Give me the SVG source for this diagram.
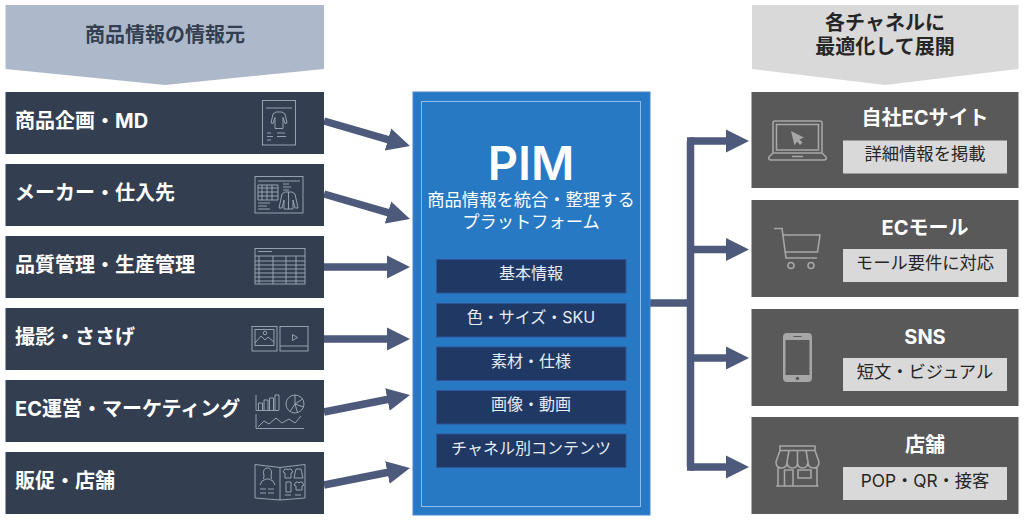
<svg xmlns="http://www.w3.org/2000/svg" width="1024" height="520" viewBox="0 0 1024 520">
<style>
text{font-family:"Inter","Noto Sans CJK JP","Noto Sans",sans-serif;text-anchor:middle}
.src{fill:#333f50}
.ch{fill:#595959}
.sub{fill:#d9d9d9}
.inner{fill:#1f3864;stroke:#2f5597;stroke-width:1}
.l{font-size:20px;font-weight:700;fill:#fff;text-anchor:start}
.t{font-size:20px;font-weight:700;fill:#fff}
.s{font-size:17.300px;fill:#262626}
.i{font-size:16px;fill:#e8edf5}
.ic{fill:none;stroke:#a3acb9;stroke-width:.9}
.ic2{fill:none;stroke:#a6a6a6;stroke-width:1.600}
.conn{fill:none;stroke:#4d5a7c;stroke-width:7.500}
</style>
<defs>
<marker id="ah" markerUnits="userSpaceOnUse" markerWidth="23" markerHeight="24" refX="1" refY="12" orient="auto"><path d="M0 0.500L23 12L0 23.500Z" fill="#4d5a7c"/></marker>
</defs>
<rect width="1024" height="520" fill="#fff"/>

<g id="connectors">
<path class="conn" marker-end="url(#ah)" d="M324 121L388.900 139.900"/>
<path class="conn" marker-end="url(#ah)" d="M324 194L388.900 212.900"/>
<path class="conn" marker-end="url(#ah)" d="M324 267L388 267"/>
<path class="conn" marker-end="url(#ah)" d="M324 339L388 339"/>
<path class="conn" marker-end="url(#ah)" d="M324 412L388.400 399.300"/>
<path class="conn" marker-end="url(#ah)" d="M324 485L388.400 472.300"/>
<path class="conn" d="M650 303H690.500"/>
<path class="conn" marker-end="url(#ah)" d="M690.500 141H727"/>
<path class="conn" d="M687 141H690.500V467H687"/>
<path class="conn" marker-end="url(#ah)" d="M690.500 467H727"/>
<path class="conn" marker-end="url(#ah)" d="M690.500 249.500H727"/>
<path class="conn" marker-end="url(#ah)" d="M690.500 358H727"/>
</g>

<g id="header-left">
<path d="M5.500 5H324V69L165 85L5.500 69Z" fill="#adb9ca"/>
<text x="165" y="41.500" font-size="20" font-weight="700" style="fill:#333f50">商品情報の情報元</text>
</g>
<g id="header-right">
<path d="M752 5H1018.500V69L885 85L752 69Z" fill="#d9d9d9"/>
<text x="885" y="29.500" font-size="20" font-weight="700" fill="#262626">各チャネルに</text>
<text x="885" y="54" font-size="20" font-weight="700" fill="#262626">最適化して展開</text>
</g>

<g id="src-1">
<rect class="src" x="5.500" y="92" width="318.500" height="62"/>
<text class="l" x="15" y="128">商品企画・MD</text>
<g class="ic"><rect x="262.500" y="100.500" width="33" height="44.500"/><path d="M266 108H292M276 112h6l3 2 2 9-2 .5-2-6v11h-8v-11l-2 6-2-.5 2-9ZM267 133h4M277 133h8M267 136.500h6M277 136.500h9M267 140h4"/></g>
</g>
<g id="src-2">
<rect class="src" x="5.500" y="164" width="318.500" height="62"/>
<text class="l" x="15" y="200">メーカー・仕入先</text>
<g class="ic"><rect x="255" y="176.500" width="48" height="36.500"/><path d="M258 181H300M258 185h20v15h-20ZM258 188h20M258 192h20M258 196h20M262 185v15M267 185v15M272 185v15M283 184h6M283 187h8M283 190h6M258 203h12M258 206h9M258 209h12M285 192H292L295 194 298 208H295L293 200V209H284V200L282 208H279L282 194ZM288.500 192V209"/></g>
</g>
<g id="src-3">
<rect class="src" x="5.500" y="236" width="318.500" height="62"/>
<text class="l" x="15" y="272">品質管理・生産管理</text>
<g class="ic"><rect x="255" y="248.500" width="50" height="35.500"/><path d="M255 256H305M255 261H305M255 265H305M255 269H305M255 273H305M255 277H305M255 281H305M259 256v28M273 256v28M286 256v28M296 256v28M258 251.500h14"/></g>
</g>
<g id="src-4">
<rect class="src" x="5.500" y="308" width="318.500" height="62"/>
<text class="l" x="15" y="344">撮影・ささげ</text>
<g class="ic"><rect x="252" y="326.500" width="25" height="24.500"/><rect x="255" y="329.500" width="19" height="16"/><circle cx="265" cy="333" r="1.800"/><path d="M255 343l6-7 4 4 3-3 6 5"/><rect x="280" y="326.500" width="28" height="24.500"/><path d="M280 346H308M292.500 334.500l5 3-5 3Z"/></g>
</g>
<g id="src-5">
<rect class="src" x="5.500" y="380" width="318.500" height="62"/>
<text class="l" x="15" y="416">EC運営・マーケティング</text>
<g class="ic"><path d="M256 395V410.500H279M258.500 410v-7h4v7M264 410v-10h4v10M269.500 410v-12h4v12M275 410v-15h4v15"/><circle cx="295" cy="404" r="9"/><path d="M295 395v9l7.500-5M295 404l8.500 3M295 404l-5 7.500M295 404l2.500 8.500"/><path d="M256 414V428.500H304M258 427l6-6 5 3 7-6 6 5 7-4 6 4 6-7"/></g>
</g>
<g id="src-6">
<rect class="src" x="5.500" y="452" width="318.500" height="62"/>
<text class="l" x="15" y="488">販促・店舗</text>
<g class="ic"><path d="M255 464.500l25 3 25-3V498l-25 2-25-2ZM280 467.500V500M260 485q1-5 6-6h3q5 1 6 6M263.500 479q1-3 0-6 0-5 4-5t4 5q-1 3 0 6M260 489h6M268 489h6M260 493h6M268 493h6M285 469h2l1 1 1-1h2l2 3-2 1v5h-6v-5l-2-1ZM296 469h5l2 9h-9ZM286 482h5v10h-5ZM296 482h2l1 1 1-1h2l2 3-2 1v4h-6v-4l-2-1ZM285 495h6M295 495h6"/></g>
</g>

<g id="pim">
<rect x="413" y="92" width="237" height="423" fill="#2779c3" stroke="#4a86cf" stroke-width="1"/>
<rect x="421.500" y="101.500" width="219" height="405" fill="none" stroke="#8fbbe6" stroke-width="1"/>
<text x="531" y="180" font-size="47" font-weight="600" fill="#fff">PIM</text>
<text x="531" y="206" font-size="17.300" fill="#fff">商品情報を統合・整理する</text>
<text x="531" y="228" font-size="17.300" fill="#fff">プラットフォーム</text>
</g>
<g id="pim-1"><rect class="inner" x="436.500" y="259.500" width="189.500" height="33.500"/><text class="i" x="531" y="279">基本情報</text></g>
<g id="pim-2"><rect class="inner" x="436.500" y="303.500" width="189.500" height="33.500"/><text class="i" x="531" y="323">色・サイズ・SKU</text></g>
<g id="pim-3"><rect class="inner" x="436.500" y="347" width="189.500" height="33.500"/><text class="i" x="531" y="366.500">素材・仕様</text></g>
<g id="pim-4"><rect class="inner" x="436.500" y="390.500" width="189.500" height="33.500"/><text class="i" x="531" y="410">画像・動画</text></g>
<g id="pim-5"><rect class="inner" x="436.500" y="434" width="189.500" height="33.500"/><text class="i" x="531" y="453.500">チャネル別コンテンツ</text></g>

<g id="ch-1">
<rect class="ch" x="751.500" y="92" width="267" height="96"/>
<text class="t" x="925" y="125">自社ECサイト</text>
<rect class="sub" x="843" y="140.500" width="164" height="33"/>
<text class="s" x="925" y="160">詳細情報を掲載</text>
<g class="ic2"><path d="M773 153V123q0-2 2-2H820q2 0 2 2V153M776.500 124.500H818.500V150H776.500ZM773 153l-4 4q-1 3 2 3H824q3 0 2-3l-4-4ZM792 156.500H803"/></g>
<path d="M791 131l13 6.500-4.500 2 3 3-2.500 2.500-3-3.500-2.500 4Z" fill="#a6a6a6"/>
</g>
<g id="ch-2">
<rect class="ch" x="751.500" y="200" width="267" height="97"/>
<text class="t" x="925" y="235">ECモール</text>
<rect class="sub" x="843" y="249" width="164" height="33"/>
<text class="s" x="925" y="269">モール要件に対応</text>
<g class="ic2"><path d="M774 228.500H782L786 258H817M783 235H820L817.500 252H785.500"/><circle cx="791" cy="265.500" r="3"/><circle cx="811" cy="265.500" r="3"/></g>
</g>
<g id="ch-3">
<rect class="ch" x="751.500" y="309" width="267" height="97"/>
<text class="t" x="925" y="344">SNS</text>
<rect class="sub" x="843" y="358" width="164" height="33"/>
<text class="s" x="925" y="378">短文・ビジュアル</text>
<rect x="783" y="333" width="29" height="49" rx="4" fill="#a6a6a6"/>
<rect x="785.500" y="340" width="24" height="35" fill="#595959"/>
<path d="M793.500 336.500H801.500" stroke="#595959" stroke-width="1"/>
<circle cx="797.500" cy="378.500" r="1.700" fill="#595959"/>
</g>
<g id="ch-4">
<rect class="ch" x="751.500" y="417" width="267" height="97"/>
<text class="t" x="925" y="452">店舗</text>
<rect class="sub" x="843" y="467" width="164" height="33"/>
<text class="s" x="925" y="487">POP・QR・接客</text>
<g class="ic2"><path d="M780 446H815V450.500H780ZM780 450.500L776 462q0 6 5.500 6t5.500-6q0 6 5.500 6t5-6q0 6 5 6t5.500-6q0 6 5.500 6t5.500-6L815 450.500M787 462L789 450.500M797.500 462V450.500M808 462L806 450.500M778 467V486M817 467V486M776 486H818.500M784.500 486V470H793V486M798 470H811V478H798Z"/></g>
</g>
</svg>
